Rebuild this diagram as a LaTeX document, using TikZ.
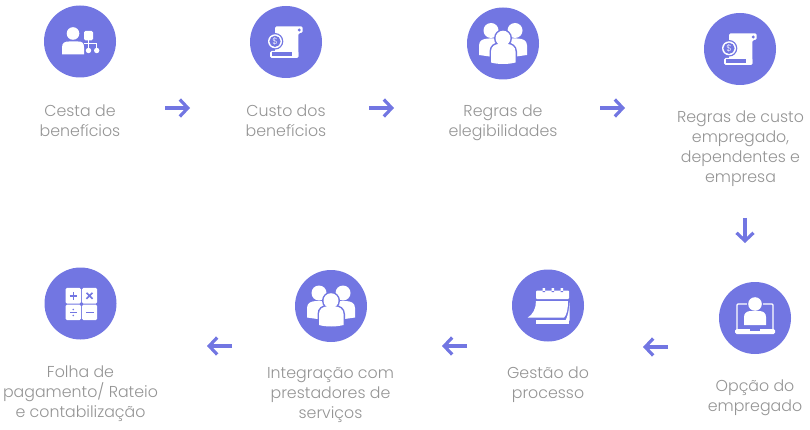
\documentclass[tikz,border=0pt]{standalone}
\usepackage{fontspec}
\setmainfont{Poppins}[UprightFont=* Light]
\usetikzlibrary{arrows.meta}
\definecolor{violeta}{HTML}{7276E2}
\definecolor{cinza}{HTML}{949494}
\tikzset{
  disco/.style={circle, fill=violeta, draw=none, minimum size=72pt, inner sep=0pt},
  rotulo/.style={text=cinza, align=center, font=\fontsize{15.8}{20}\selectfont, inner sep=0pt},
  seta/.style={draw=violeta, line width=3.4pt, -{Straight Barb[length=8pt,width=17pt,line width=3.2pt]}},
  icone/.style={fill=white, draw=none},
  corte/.style={fill=violeta, draw=none},
  traco/.style={draw=violeta, line width=1.5pt}
}
% icons, centred on the disc
\newcommand{\iconeCesta}[1]{
  \begin{scope}[shift={(#1)}]
    \fill[icone] (-7,-8) circle (6.3);
    \fill[icone] (-18,13) -- (-18,6) .. controls (-18,1) and (-15,0) .. (-11,0) -- (-2,0) .. controls (2,0) and (4,1) .. (4,6) -- (4,13) -- cycle;
    \fill[icone, rounded corners=1.5pt] (4,-10.5) rectangle (13,-1);
    \draw[white, line width=.8pt] (8.5,-1) -- (8.5,9) (8.5,2) -- (16.7,2) -- (16.7,9) (4,2) -- (8.5,2);
    \fill[icone] (8.5,9) circle (2.7) (16.7,9) circle (2.7);
  \end{scope}}
\newcommand{\iconeRolo}[1]{
  \begin{scope}[shift={(#1)}]
    \fill[icone, rounded corners=1.5pt] (-11,-15.7) -- (16.7,-15.7) -- (16.7,-9) -- (12.3,-9) -- (12.3,16) -- (-11,16) -- cycle;
    \fill[corte] (13.2,-12) circle (1.6);
    \fill[icone, rounded corners=1.5pt] (-16,9) rectangle (12.3,16);
    \fill[corte] (-14.3,10.5) rectangle (5.5,14.5);
    \fill[corte] (-11,-.7) circle (8.3);
    \fill[icone] (-11,-.7) circle (7);
    \fill[corte] (-11,-.7) circle (5.6);
    \node[inner sep=0pt, text=white, font=\fontsize{9}{9}\selectfont] at (-11,-.7) {\$};
  \end{scope}}
\newcommand{\iconeGrupo}[1]{
  \begin{scope}[shift={(#1)}]
    \fill[icone] (-12,-13) circle (7.5) (12,-13) circle (7.5);
    \fill[icone] (-24,11.5) -- (-24,2) .. controls (-24,-3) and (-20,-5) .. (-14,-5) -- (14,-5) .. controls (20,-5) and (24,-3) .. (24,2) -- (24,11.5) -- (10,13.5) -- (-10,13.5) -- cycle;
    \fill[corte] (0,-5.3) circle (9);
    \fill[corte] (-13.5,21) -- (-13.5,8) .. controls (-13.5,2) and (-9,-1) .. (-4,-1) -- (4,-1) .. controls (9,-1) and (14,2) .. (14,8) -- (14,21) -- cycle;
    \fill[icone] (0,-5.3) circle (7.5);
    \fill[icone] (-12,19) -- (-12,8) .. controls (-12,3) and (-8,.5) .. (-4,.5) -- (4,.5) .. controls (8,.5) and (12.5,3) .. (12.5,8) -- (12.5,19) .. controls (5,21) and (-5,21) .. (-12,19) -- cycle;
  \end{scope}}
\newcommand{\iconeCalc}[1]{
  \begin{scope}[shift={(#1)}]
    \fill[icone, rounded corners=1.5pt] (-15,-15.7) rectangle (.5,.2);
    \fill[icone, rounded corners=1.5pt] (1.5,-15.7) rectangle (16.7,.2);
    \fill[icone, rounded corners=1.5pt] (-15,1.2) rectangle (.5,16.7);
    \fill[icone, rounded corners=1.5pt] (1.5,1.2) rectangle (16.7,16.7);
    \draw[traco] (-11,-7.7) -- (-3.5,-7.7) (-7.2,-11.5) -- (-7.2,-4);
    \draw[traco] (6,-10.7) -- (12,-4.7) (6,-4.7) -- (12,-10.7);
    \draw[traco, line width=1pt] (-10.5,9) -- (-4,9);
    \fill[corte] (-7.2,6) circle (.9) (-7.2,12) circle (.9);
    \draw[traco] (5.5,9) -- (13,9);
  \end{scope}}
\newcommand{\iconeAgenda}[1]{
  \begin{scope}[shift={(#1)}]
    % header with rings
    \fill[icone, rounded corners=1pt] (-12,-15) rectangle (21,-6.3);
    \fill[icone] (-5.5,-17.5) rectangle (-3,-13) (3.5,-17.5) rectangle (6,-13) (12.5,-17.5) rectangle (15,-13);
    \fill[corte] (-5.5,-14.5) rectangle (-3,-13.5) (3.5,-14.5) rectangle (6,-13.5) (12.5,-14.5) rectangle (15,-13.5);
    % back sheet
    \fill[icone] (-12,14.5) rectangle (21,18);
    \fill[icone] (21.5,-3) -- (21.5,15) -- (17.5,15) .. controls (20,10) and (21,5) .. (21.5,-3) -- cycle;
    % loose page
    \fill[icone] (-12,-4.5) -- (20,-4.5) .. controls (20,3) and (19,9) .. (16,12.2) -- (-20.5,12.2) .. controls (-15,9) and (-12,3) .. (-12,-4.5) -- cycle;
  \end{scope}}
\newcommand{\iconeLaptop}[1]{
  \begin{scope}[shift={(#1)}]
    \draw[white, line width=1.3pt, rounded corners=1pt] (-18,11) -- (-18,-14) -- (18,-14) -- (18,11);
    \fill[icone, rounded corners=1.5pt] (-20,11) rectangle (20,16);
    \fill[corte] (-5,11) rectangle (5,13);
    \fill[corte] (0,-14) circle (8);
    \fill[icone] (0,-14) circle (6.8);
    \fill[icone] (-11,7) -- (-11,-1) .. controls (-11,-5) and (-8,-7) .. (-4,-7) -- (4,-7) .. controls (8,-7) and (11,-5) .. (11,-1) -- (11,7) -- cycle;
  \end{scope}}

\begin{document}
\begin{tikzpicture}[x=1pt, y=-1pt]
  \useasboundingbox (0,0) rectangle (810,430);

  \node[disco] (cesta) at (80,41.5) {};
  \node[disco] (custo) at (286,42) {};
  \node[disco] (regras) at (503,43.5) {};
  \node[disco] (regrasc) at (740,49) {};
  \node[disco] (opcao) at (755,318) {};
  \node[disco] (gestao) at (548,305.5) {};
  \node[disco] (integra) at (331,306) {};
  \node[disco] (folha) at (80.5,303.5) {};

  \iconeCesta{cesta}
  \iconeRolo{custo}
  \iconeGrupo{regras}
  \iconeRolo{regrasc}
  \iconeLaptop{opcao}
  \iconeAgenda{gestao}
  \iconeGrupo{integra}
  \iconeCalc{folha}

  \node[rotulo] (lcesta) at (80,120.5) {Cesta de\\benefícios};
  \node[rotulo] (lcusto) at (286,120.5) {Custo dos\\benefícios};
  \node[rotulo] (lregras) at (503,123) {Regras de\\elegibilidades};
  \node[rotulo] (lregrasc) at (740.5,149) {Regras de custo\\empregado,\\dependentes e\\empresa};
  \node[rotulo] (lopcao) at (755,398) {Opção do\\empregado};
  \node[rotulo] (lgestao) at (548,385) {Gestão do\\processo};
  \node[rotulo] (lintegra) at (330.5,395.5) {Integração com\\prestadores de\\serviços};
  \node[rotulo] (lfolha) at (80.5,393.5) {Folha de\\pagamento/ Rateio\\e contabilização};

  \coordinate (s1a) at (165,108);
  \coordinate (s1b) at (190,108);
  \coordinate (s2a) at (369,108);
  \coordinate (s2b) at (394,108);
  \coordinate (s3a) at (600,108);
  \coordinate (s3b) at (625,108);
  \coordinate (s4a) at (745,218);
  \coordinate (s4b) at (745,243);
  \coordinate (s5a) at (668,347);
  \coordinate (s5b) at (643,347);
  \coordinate (s6a) at (467,346);
  \coordinate (s6b) at (442,346);
  \coordinate (s7a) at (232,346);
  \coordinate (s7b) at (207,346);

  \foreach \a/\b in {s1a/s1b, s2a/s2b, s3a/s3b, s4a/s4b, s5a/s5b, s6a/s6b, s7a/s7b}
    \draw[seta] (\a) -- (\b);
\end{tikzpicture}
\end{document}
